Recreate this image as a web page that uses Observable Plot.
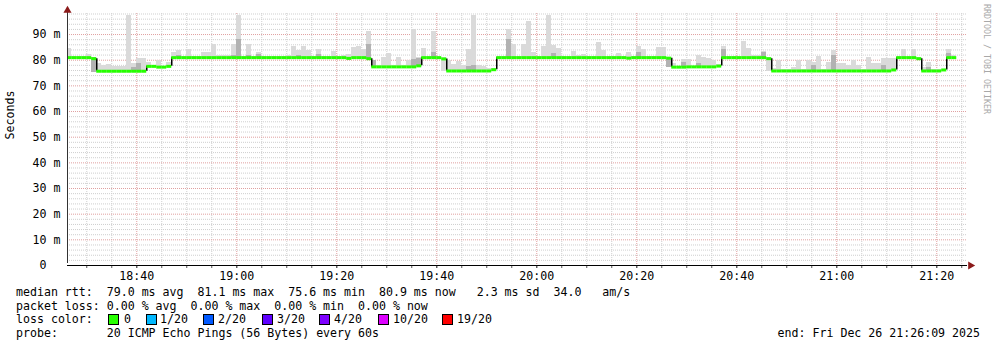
<!DOCTYPE html>
<html><head><meta charset="utf-8">
<script src="https://cdn.jsdelivr.net/npm/d3@7"></script>
<script src="https://cdn.jsdelivr.net/npm/@observablehq/plot@0.6"></script>
<style>
body{margin:0;background:#fff;}
#wrap{position:relative;width:997px;height:347px;font-family:"DejaVu Sans Mono",monospace;font-size:11.6px;color:#000;overflow:hidden;}
#wrap svg{position:absolute;left:0;top:0;}
.ln{position:absolute;white-space:pre;line-height:14px;}
.sw{position:absolute;width:9px;height:9px;border:1px solid #000;}
.credit{position:absolute;left:982px;top:4px;writing-mode:vertical-rl;font-size:8.3px;color:#a8a8a8;white-space:pre;line-height:10px;}
</style></head>
<body><div id="wrap"></div>
<script>
// median RTT (ms) per one-minute step starting 18:26
const medianRtt = [
 81.0,81.0,81.0,81.0,81.0,80.6,75.7,75.7,75.7,75.7,
 75.7,75.7,75.7,75.7,75.7,75.7,77.6,77.6,77.3,77.3,
 77.6,81.0,81.0,81.0,81.0,81.0,81.0,81.0,81.0,81.0,
 81.0,81.0,81.0,81.0,81.0,81.0,81.0,81.0,81.0,81.0,
 81.0,81.0,81.0,81.0,81.0,81.0,81.0,81.0,81.0,81.0,
 81.0,81.0,81.0,81.0,81.0,81.0,80.7,81.0,81.0,81.0,
 80.6,77.4,77.4,77.4,77.4,77.4,77.4,77.4,77.4,77.4,
 77.8,81.0,81.0,81.0,81.0,80.5,75.8,75.8,75.8,75.8,
 75.8,75.8,75.8,75.8,75.8,76.3,81.0,81.0,81.0,81.0,
 81.0,81.0,81.0,81.0,81.0,81.0,81.0,81.0,81.0,81.0,
 81.0,81.0,81.0,81.0,81.0,81.0,81.0,81.0,81.0,81.0,
 81.0,81.0,80.8,81.0,81.0,81.0,81.0,81.0,81.0,81.0,
 80.8,77.3,77.3,77.3,77.4,77.4,77.4,77.4,77.4,77.4,
 77.7,81.0,81.0,81.0,81.0,81.0,81.0,81.0,81.0,81.0,
 80.6,75.8,75.8,75.8,75.8,75.8,75.8,75.8,75.8,75.8,
 75.8,75.8,75.8,75.8,75.8,75.8,75.8,75.8,75.8,75.8,
 75.8,75.8,75.8,75.8,75.8,76.2,81.0,81.0,81.0,81.0,
 80.6,75.8,75.8,75.8,75.8,76.2,81.0,81.0,null,null
];
// highest ping per step (ms)
const maxRtt = [
 84.4,81.4,81.4,81.4,82.2,80.9,78.8,77.9,78.3,77.5,
 77.5,77.5,97.4,78.6,80.8,80.5,79.2,78.0,79.9,77.7,
 79.2,82.9,83.8,81.4,84.0,81.4,81.4,82.9,82.9,86.0,
 82.0,81.8,81.8,86.0,97.4,81.4,86.0,81.4,82.9,81.4,
 81.4,81.6,81.4,81.4,82.0,85.5,83.8,85.5,83.8,81.4,
 84.0,81.4,81.4,83.4,81.4,81.8,82.2,85.0,85.3,84.0,
 91.2,79.9,77.8,81.2,82.7,77.8,81.2,77.8,79.9,92.0,
 81.2,84.7,81.4,91.2,81.4,80.9,79.9,78.3,79.5,77.9,
 84.2,97.4,77.9,77.5,76.6,76.7,81.4,81.4,92.0,86.0,
 81.4,86.0,95.0,83.1,81.6,85.5,97.4,85.7,84.4,81.4,
 81.4,83.5,82.0,82.2,81.4,81.4,86.9,83.8,81.4,81.4,
 82.7,81.4,83.1,81.4,85.3,84.0,81.4,81.4,85.0,85.0,
 80.9,78.6,77.7,80.1,80.1,77.7,82.0,81.2,80.8,79.9,
 78.2,85.3,81.4,81.4,81.4,87.3,84.7,82.0,81.8,83.4,
 80.9,76.6,79.9,76.2,76.2,77.0,79.9,76.2,79.9,79.2,
 81.4,76.2,79.2,83.8,78.6,78.6,77.9,79.9,77.9,76.2,
 80.9,78.6,78.6,80.5,80.5,80.5,81.4,84.0,81.6,84.0,
 81.0,77.3,79.0,76.2,76.2,76.5,84.0,82.0,null,null
];
// steps whose lowest ping lies visibly below the median: [step, ms]
const lowRtt = [[5,75.3],[75,75.6],[120,77.3],[140,75.6]];
// denser inner smoke: [step, top ms]
const denseTop = [[5,80.9],[13,77.2],[14,78.6],[22,82.0],[33,81.8],[34,88.0],[36,81.8],[38,82.2],
 [46,82.0],[50,82.4],[60,86.0],[61,79.9],[69,80.2],[70,80.5],[73,83.0],[80,77.5],[81,77.8],
 [88,88.0],[97,82.5],[114,83.0],[120,80.9],[123,79.2],[126,78.6],[131,84.0],[139,83.0],
 [149,78.0],[153,82.0],[163,78.0],[172,77.3],[176,82.5]];
const yTicks = [0,10,20,30,40,50,60,70,80,90];
const lossLabels = ["0","1/20","2/20","3/20","4/20","10/20","19/20"];
const lossColors = ["#26ff00","#00b8ff","#0059ff","#5e00ff","#7e00ff","#dd00ff","#ff0000"];
const statLines = [
 "median rtt:  79.0 ms avg  81.1 ms max  75.6 ms min  80.9 ms now   2.3 ms sd  34.0   am/s",
 "packet loss: 0.00 % avg  0.00 % max  0.00 % min  0.00 % now"
];
const probeLine = "probe:       20 ICMP Echo Pings (56 Bytes) every 60s";
const endLine = "end: Fri Dec 26 21:26:09 2025";

const t0 = new Date(2025, 11, 26, 18, 26, 0);
const tStart = new Date(2025, 11, 26, 18, 26, 9);
const tEnd = new Date(2025, 11, 26, 21, 26, 9);
const yTop = 98.2;
const lowMap = new Map(lowRtt), denseMap = new Map(denseTop);
const rows = medianRtt.map((m, k) => ({
  t: new Date(+t0 + k * 60000), t2: new Date(+t0 + (k + 1) * 60000),
  med: m, hi: maxRtt[k], lo: lowMap.has(k) ? lowMap.get(k) : (m == null ? null : m - 0.3),
  dk: denseMap.get(k)
})).filter(d => d.med != null);
const dense = rows.filter(d => d.dk != null);
const jumps = [];
for (let i = 1; i < rows.length; i++) {
  if (Math.abs(rows[i].med - rows[i-1].med) > 1) jumps.push({t: rows[i].t, a: rows[i-1].med, b: rows[i].med});
}
const minorX = d3.timeMinute.every(5).range(tStart, tEnd).filter(d => d.getMinutes() % 20 !== 0);
const majorX = d3.timeMinute.every(20).range(tStart, tEnd);
const allX = d3.timeMinute.every(5).range(tStart, tEnd);
const minorY = d3.range(2, 98.5, 2).filter(v => v % 10 !== 0);
const majorY = yTicks.filter(v => v > 0);
const fmt = d3.timeFormat("%H:%M");

const chart = Plot.plot({
  width: 997, height: 283,
  marginLeft: 67, marginRight: 30, marginTop: 13, marginBottom: 18,
  style: {fontFamily: "'DejaVu Sans Mono', monospace", fontSize: "11.6px", background: "white", color: "#000", overflow: "visible"},
  x: {type: "time", domain: [tStart, tEnd], axis: null},
  y: {domain: [0, yTop], axis: null},
  marks: [
    Plot.ruleY(minorY, {stroke: "#cfcfcf", strokeDasharray: "1,1"}),
    Plot.ruleX(minorX, {stroke: "#cfcfcf", strokeDasharray: "1,1"}),
    Plot.ruleY(majorY, {stroke: "#e0a0a0", strokeDasharray: "1,1"}),
    Plot.ruleX(majorX, {stroke: "#e0a0a0", strokeDasharray: "1,1"}),
    Plot.rect(rows, {x1: "t", x2: "t2", y1: "lo", y2: "hi", fill: "#dadada", clip: true, shapeRendering: "crispEdges"}),
    Plot.rect(dense, {x1: "t", x2: "t2", y1: "lo", y2: "dk", fill: "#b2b2b2", clip: true, shapeRendering: "crispEdges"}),
    Plot.ruleX(jumps, {x: "t", y1: "a", y2: "b", stroke: "#000", strokeWidth: 1.5}),
    Plot.ruleY(rows, {y: "med", x1: "t", x2: "t2", stroke: "#26ff00", strokeWidth: 3, clip: true}),
    Plot.axisX({ticks: allX, tickSize: 3, tickFormat: () => "", stroke: "#555"}),
    Plot.axisX({ticks: majorX, tickSize: 3, tickPadding: 3, tickFormat: fmt, fill: "#000", stroke: "#555"}),
    Plot.axisY({ticks: yTicks, tickSize: 0, tickPadding: 7, tickFormat: d => d === 0 ? "0\u00a0\u00a0" : d + " m", fill: "#000"}),
    Plot.ruleY([0], {x1: tStart, x2: tEnd, stroke: "#000", dx: 0}),
    Plot.ruleX([tStart], {y1: 0, y2: yTop, stroke: "#333", dy: -2}),
    Plot.dot([{x: tEnd, y: 0}], {x: "x", y: "y", symbol: "triangle", rotate: 90, r: 3, fill: "#8b1a1a", dx: 3}),
    Plot.dot([{x: tStart, y: yTop}], {x: "x", y: "y", symbol: "triangle", r: 3, fill: "#8b1a1a", dy: -3}),
    Plot.text(["Seconds"], {frameAnchor: "left", rotate: -90, dx: -57, fill: "#000"})
  ]
});
const wrap = document.getElementById("wrap");
wrap.appendChild(chart);

function addLine(txt, left, top) {
  const d = document.createElement("div");
  d.className = "ln"; d.textContent = txt;
  d.style.left = left + "px"; d.style.top = top + "px";
  wrap.appendChild(d); return d;
}
addLine(statLines[0], 16, 285);
addLine(statLines[1], 16, 298.5);
addLine("loss color:", 16, 312.3);
const swX = [108, 146, 203, 262, 319, 378, 442];
const txX = [124, 160, 218, 277, 334, 393, 457];
lossLabels.forEach((lab, i) => {
  const s = document.createElement("div");
  s.className = "sw"; s.style.left = swX[i] + "px"; s.style.top = "314px"; s.style.background = lossColors[i];
  wrap.appendChild(s);
  addLine(lab, txX[i], 312.3);
});
addLine(probeLine, 16, 326.3);
const e = addLine(endLine, 0, 326.3);
e.style.left = (980 - e.getBoundingClientRect().width) + "px";
const c = document.createElement("div");
c.className = "credit"; c.textContent = "RRDTOOL / TOBI OETIKER";
wrap.appendChild(c);
</script>
</body></html>
